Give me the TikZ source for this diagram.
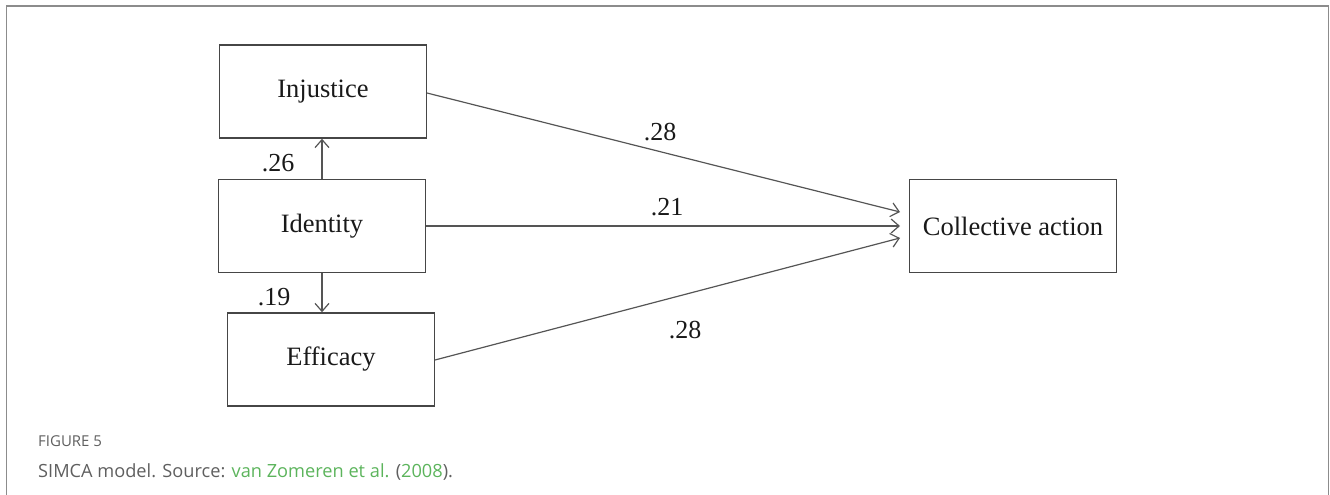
\documentclass[tikz,border=0pt]{standalone}
\usepackage{fontspec}
\setmainfont{Liberation Serif}
\newfontfamily\capfont{Open Sans}
\usetikzlibrary{arrows.meta}
\definecolor{framegray}{RGB}{140,140,140}
\definecolor{boxgray}{RGB}{70,70,70}
\definecolor{arrgray}{RGB}{85,85,85}
\definecolor{capgray}{RGB}{95,95,95}
\definecolor{capgreen}{RGB}{92,180,92}
\tikzset{
  varbox/.style={draw=boxgray, line width=1.5pt, minimum width=207pt, minimum height=93pt,
    inner sep=0pt, font=\fontsize{26.5}{30}\selectfont, text=black!90},
  path/.style={draw=arrgray, line width=1.2pt, -{Straight Barb[length=8pt,width=14pt,line width=1.2pt]}},
  coef/.style={inner sep=0pt, font=\fontsize{26}{30}\selectfont, text=black!90},
}
\begin{document}
\begin{tikzpicture}[x=1pt,y=-1pt]
\useasboundingbox (0,0) rectangle (1330,495);
\begin{scope}
\clip (0,0) rectangle (1330,495);
\draw[framegray, line width=1.6pt] (6.5,520) -- (6.5,6) -- (1328.5,6) -- (1328.5,520);
\end{scope}
\node[varbox] (inj) at (323,91.5) {Injustice};
\node[varbox] (ide) at (322,226) {Identity};
\node[varbox] (eff) at (331,359.5) {Efficacy};
\node[varbox] (col) at (1013,226) {Collective action};
\coordinate (t1) at (900,212);
\coordinate (t2) at (900,226);
\coordinate (t3) at (900,238);
\coordinate (s1) at (427,93);
\coordinate (s3) at (435,360);
\draw[path] (ide.north) -- (ide.north |- inj.south);
\draw[path] (ide.south) -- (ide.south |- eff.north);
\draw[path] (s1) -- (t1);
\draw[path] (ide.east) -- (t2);
\draw[path] (s3) -- (t3);
\node[coef] (c1) at (660,132) {.28};
\node[coef] (c2) at (667,207) {.21};
\node[coef] (c3) at (685,330) {.28};
\node[coef] (c4) at (278,163) {.26};
\node[coef] (c5) at (274,297) {.19};
\node[anchor=base west, inner sep=0pt, text=capgray, font=\capfont\fontsize{15}{16}\selectfont] (fig) at (38,446) {FIGURE 5};
\node[anchor=base west, inner sep=0pt, text=capgray, font=\capfont\fontsize{18.2}{20}\selectfont] (cap) at (38,477)
  {SIMCA model. Source: \textcolor{capgreen}{van Zomeren et al.} (\textcolor{capgreen}{2008}).};
\end{tikzpicture}
\end{document}
